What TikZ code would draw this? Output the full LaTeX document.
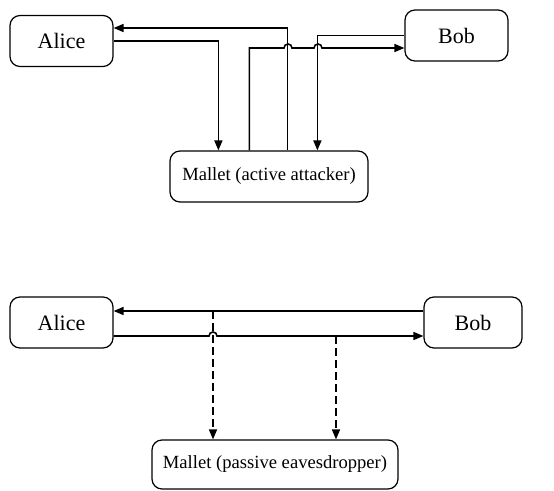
\documentclass[tikz,border=0pt]{standalone}
\usepackage{fontspec}
\setmainfont{Liberation Serif}
\usetikzlibrary{arrows.meta,positioning}
\tikzset{
    party/.style={draw,rounded corners=5pt,line width=0.6pt,minimum width=51.5pt,minimum height=25.5pt,font=\fontsize{11}{13}\selectfont},
    attacker/.style={party,font=\fontsize{9.3}{11}\selectfont},
    arr/.style={-{Triangle[length=5pt,width=4pt]},line width=0.8pt},
    darr/.style={arr,dash pattern=on 4pt off 2pt},
}
\begin{document}
\begin{tikzpicture}[x=0.5pt,y=-0.5pt]
    \useasboundingbox (0,0) rectangle (554,491);
    % active attack
    \node[party] (alice1) at (61.5,41) {Alice};
    \node[party] (bob1) at (456.5,35.5) {Bob};
    \node[attacker,minimum width=99pt] (mallet1) at (269,176.5) {Mallet (active attacker)};
    \coordinate (hopA) at (288,48);
    \coordinate (hopB) at (318,48);
    \draw[arr] ([xshift=59pt]mallet1.north west) |- ([yshift=6.5pt]alice1.east);
    \draw[arr] (alice1.east) -| ([xshift=24.5pt]mallet1.north west);
    \draw[arr] ([xshift=40pt]mallet1.north west) |- ([xshift=-2pt]hopA)
        arc[start angle=180,end angle=0,radius=2pt] -- ([xshift=-2pt]hopB)
        arc[start angle=180,end angle=0,radius=2pt] -- ([yshift=-6.25pt]bob1.west);
    \draw[arr] (bob1.west) -| ([xshift=74pt]mallet1.north west);
    % passive eavesdropping
    \node[party] (alice2) at (61.5,322.5) {Alice};
    \node[party,minimum width=49pt] (bob2) at (473,322.5) {Bob};
    \node[attacker,minimum width=123pt,minimum height=24.5pt] (mallet2) at (275,464.5) {Mallet (passive eavesdropper)};
    \coordinate (tapA) at (213,311);
    \coordinate (tapB) at (336,336);
    \coordinate (hopC) at (213,336);
    \draw[arr] ([yshift=5.75pt]bob2.west) -- ([yshift=5.75pt]alice2.east);
    \draw[arr] ([yshift=-6.75pt]alice2.east) -- ([xshift=-2pt]hopC)
        arc[start angle=180,end angle=0,radius=2pt] -- ([yshift=-6.75pt]bob2.west);
    \draw[darr] (tapA) -- (tapA |- mallet2.north);
    \draw[darr] (tapB) -- (tapB |- mallet2.north);
\end{tikzpicture}
\end{document}
